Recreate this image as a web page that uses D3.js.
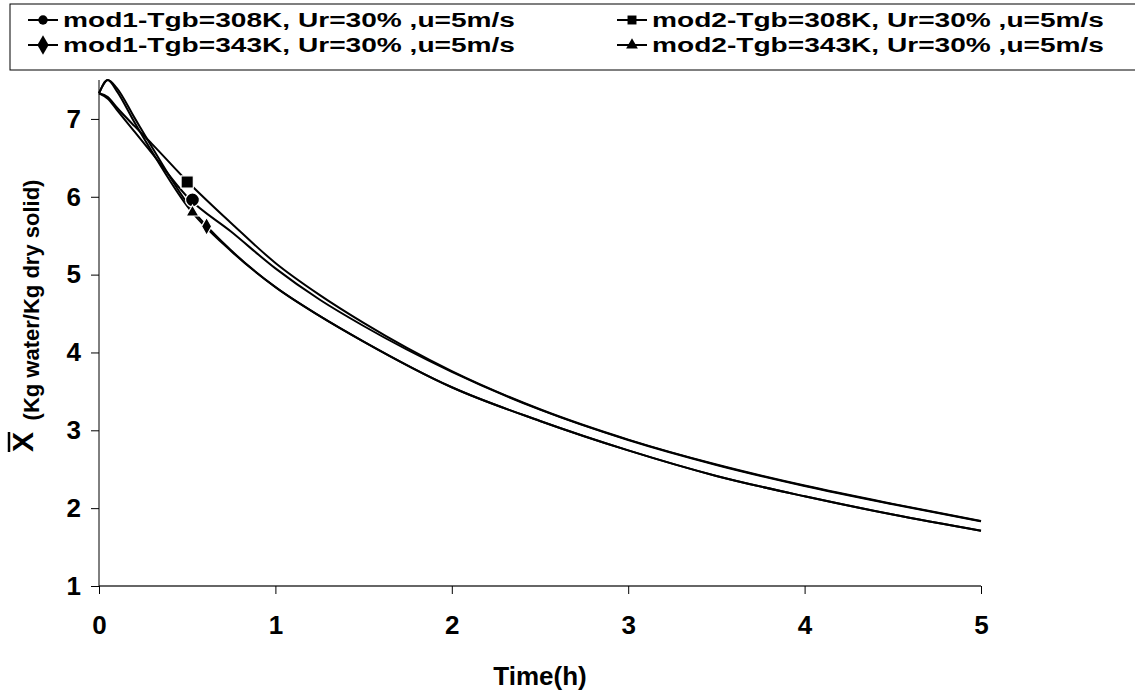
<!DOCTYPE html>
<html>
<head>
<meta charset="utf-8">
<script src="https://cdn.jsdelivr.net/npm/d3@7"></script>
<style>
  html, body { margin: 0; padding: 0; background: #fff; }
  svg { display: block; }
  text { font-family: "Liberation Sans", Arial, sans-serif; font-weight: bold; fill: #000; }
</style>
</head>
<body>
<svg id="chart" width="1135" height="696"></svg>
<script>
// ---- data ----
const times = [0, 0.05, 0.1, 0.2, 0.3, 0.5, 0.75, 1, 1.25, 1.5, 2, 2.5, 3, 3.5, 4, 4.5, 5];
const mod1_308 = [7.33, 7.26, 7.12, 6.84, 6.56, 6.00, 5.55, 5.08, 4.68, 4.34, 3.75, 3.265, 2.875, 2.555, 2.285, 2.05, 1.83];
const mod2_308 = [7.33, 7.28, 7.15, 6.91, 6.68, 6.20, 5.66, 5.15, 4.74, 4.38, 3.76, 3.27, 2.88, 2.56, 2.29, 2.055, 1.835];
const mod1_343 = [7.33, 7.50, 7.36, 6.96, 6.58, 5.88, 5.30, 4.84, 4.47, 4.14, 3.553, 3.12, 2.742, 2.414, 2.152, 1.918, 1.71];
const mod2_343 = [7.33, 7.50, 7.40, 7.02, 6.64, 5.92, 5.31, 4.84, 4.47, 4.14, 3.553, 3.12, 2.742, 2.414, 2.152, 1.918, 1.71];
const seriesNames = [
  "mod1-Tgb=308K, Ur=30% ,u=5m/s",
  "mod2-Tgb=308K, Ur=30% ,u=5m/s",
  "mod1-Tgb=343K, Ur=30% ,u=5m/s",
  "mod2-Tgb=343K, Ur=30% ,u=5m/s"
];
const markerTypes = ["circle", "square", "diamond", "triangle"];
// single marker point shown on each curve [time, X]
const markerPoints = [[0.53, 5.96], [0.50, 6.19], [0.61, 5.62], [0.53, 5.80]];
const xTicks = [0, 1, 2, 3, 4, 5];
const yTicks = [1, 2, 3, 4, 5, 6, 7];
const xTitle = "Time(h)";
const yTitleMain = "X";
const yTitleSub = "(Kg water/Kg dry solid)";

// ---- layout ----
const svg = d3.select("#chart");
const x = d3.scaleLinear().domain([0, 5]).range([99, 981]);
const y = d3.scaleLinear().domain([1, 7.5]).range([586, 80]);

const allSeries = [mod1_308, mod2_308, mod1_343, mod2_343];

const symbolFor = {
  circle: d3.symbol().type(d3.symbolCircle).size(150),
  square: d3.symbol().type(d3.symbolSquare).size(150),
  diamond: d3.symbol().type(d3.symbolDiamond).size(90),
  triangle: d3.symbol().type(d3.symbolTriangle).size(70)
};

// axes
const xAxis = d3.axisBottom(x).tickValues(xTicks).tickSize(8).tickPadding(22).tickFormat(d3.format("d"));
const yAxis = d3.axisLeft(y).tickValues(yTicks).tickSize(8).tickPadding(10).tickFormat(d3.format("d"));

const gx = svg.append("g").attr("transform", `translate(0,${y(1)})`).call(xAxis);
const gy = svg.append("g").attr("transform", `translate(${x(0)},0)`).call(yAxis);
[gx, gy].forEach(g => {
  g.selectAll("text").style("font-size", "26px").style("font-family", "'Liberation Sans', Arial, sans-serif").style("font-weight", "bold").attr("fill", "#000");
  g.selectAll(".tick line").attr("stroke", "#000").attr("stroke-width", 1);
});
gx.select(".domain").attr("stroke", "#666").attr("stroke-width", 2).attr("d", `M${x(0)},0H${x(5)}`);
gy.select(".domain").attr("stroke", "#000").attr("stroke-width", 1).attr("d", `M0,${y(7.5)}V${y(1)}`);

// lines
const line = d3.line().x((d, i) => x(times[i])).y(d => y(d)).curve(d3.curveMonotoneX);
svg.append("g").selectAll("path").data(allSeries).join("path")
  .attr("d", d => line(d))
  .attr("fill", "none").attr("stroke", "#000").attr("stroke-width", 2);

// markers
svg.append("g").selectAll("path").data(markerPoints).join("path")
  .attr("transform", d => `translate(${x(d[0])},${y(d[1])})`)
  .attr("d", (d, i) => symbolFor[markerTypes[i]]())
  .attr("fill", "#000").attr("stroke", "#fff").attr("stroke-width", 1.2);

// axis titles
svg.append("text").attr("x", x(2.5)).attr("y", 685).attr("text-anchor", "middle")
  .style("font-size", "26px").text(xTitle);

const yt = svg.append("g").attr("transform", "translate(33,442) rotate(-90)");
yt.append("text").attr("x", 0).attr("y", 0).attr("text-anchor", "middle").style("font-size", "30px").text(yTitleMain);
yt.append("line").attr("x1", -10).attr("x2", 10).attr("y1", -24).attr("y2", -24).attr("stroke", "#000").attr("stroke-width", 2.5);
svg.append("text").attr("transform", "translate(39,300) rotate(-90)").attr("text-anchor", "middle")
  .style("font-size", "22px").text(yTitleSub);

// legend
const leg = svg.append("g");
leg.append("rect").attr("x", 10).attr("y", 4).attr("width", 1140).attr("height", 66)
  .attr("fill", "#fff").attr("stroke", "#000").attr("stroke-width", 1);
const legPos = [[28, 20], [617, 20], [28, 45], [617, 45]];
const legTextX = [63, 652, 63, 652];
const legSym = {
  circle: d3.symbol().type(d3.symbolCircle).size(70),
  square: d3.symbol().type(d3.symbolSquare).size(80),
  diamond: d3.symbol().type(d3.symbolDiamond).size(110),
  triangle: d3.symbol().type(d3.symbolTriangle).size(60)
};
seriesNames.forEach((name, i) => {
  const [lx, ly] = legPos[i];
  leg.append("line").attr("x1", lx).attr("x2", lx + 30).attr("y1", ly).attr("y2", ly).attr("stroke", "#000").attr("stroke-width", 2);
  leg.append("path").attr("transform", `translate(${lx + 15},${ly})`).attr("d", legSym[markerTypes[i]]()).attr("fill", "#000");
  leg.append("text").attr("x", legTextX[i]).attr("y", ly + 7).style("font-size", "20px")
    .attr("textLength", 452).attr("lengthAdjust", "spacingAndGlyphs").text(name);
});
</script>
</body>
</html>
